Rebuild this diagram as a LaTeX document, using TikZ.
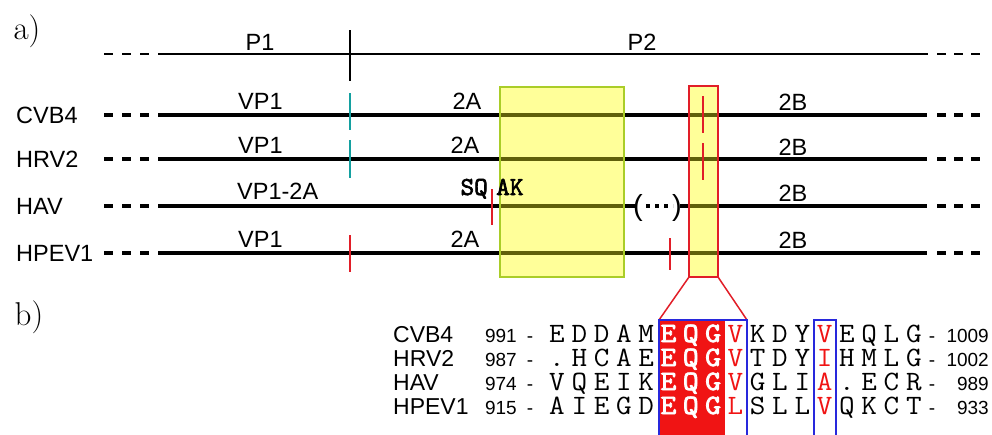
\documentclass[tikz,border=0pt]{standalone}
\usepackage{fontspec}
\setsansfont{Liberation Sans}
\newfontfamily\seqbold[FakeBold=2.5]{lmmono10-regular.otf}
\definecolor{boxyellow}{RGB}{255,255,153}
\definecolor{boxgreen}{RGB}{170,205,40}
\definecolor{olive2}{RGB}{96,96,10}
\definecolor{tickteal}{RGB}{20,160,160}
\definecolor{tickred}{RGB}{225,30,40}
\definecolor{alnred}{RGB}{240,20,20}
\definecolor{alnblue}{RGB}{40,40,220}
\begin{document}
\begin{tikzpicture}[x=1pt,y=-1pt,
  lab/.style={font=\sffamily\fontsize{23.5}{25}\selectfont, inner sep=0pt},
  plab/.style={font=\rmfamily\fontsize{33}{35}\selectfont, inner sep=0pt},
  alab/.style={font=\sffamily\fontsize{23}{25}\selectfont, inner sep=0pt, anchor=base west},
  anum/.style={font=\sffamily\fontsize{19}{21}\selectfont, inner sep=0pt},
  sbase/.style={inner sep=0pt, anchor=base, xscale=1.08},
  sk/.style={sbase, font=\ttfamily\fontsize{28}{30}\selectfont, text=black},
  sr/.style={sbase, font=\ttfamily\fontsize{28}{30}\selectfont, text=alnred},
  sw/.style={sbase, font=\seqbold\fontsize{28}{30}\selectfont, text=white},
  rowline/.style={line width=4.5pt},
  thinline/.style={line width=1.3pt},
  tick/.style={line width=2pt},
  motif/.style={font=\seqbold\fontsize{26}{28}\selectfont, inner sep=0pt}
]
\useasboundingbox (0,0) rectangle (992,434);

% ---------- panel labels
\node[plab] (pa) at (27,31) {a)};
\node[plab] (pb) at (29,317) {b)};

% ---------- boxes (fill)
\fill[boxyellow] (500,87) rectangle (624,277);
\fill[boxyellow] (689,86) rectangle (718,277);

% ---------- top polyprotein line
\coordinate (tl0) at (104,54); \coordinate (tl1) at (149,54);
\coordinate (tl2) at (158,54); \coordinate (tl3) at (928,54);
\coordinate (tl4) at (937,54); \coordinate (tl5) at (981,54);
\draw[thinline, dash pattern=on 9pt off 9pt] (tl0) -- (tl1);
\draw[thinline] (tl2) -- (tl3);
\draw[thinline, dash pattern=on 9pt off 8pt] (tl4) -- (tl5);
\coordinate (vt0) at (350,30); \coordinate (vt1) at (350,81);
\draw[line width=1.8pt] (vt0) -- (vt1);
\node[lab] (P1) at (260,42) {P1};
\node[lab] (P2) at (642,42) {P2};

% ---------- genome rows
\foreach \y in {115,159,253} {
  \draw[rowline, dash pattern=on 9pt off 9pt] (104,\y) -- (149,\y);
  \draw[rowline] (158,\y) -- (927,\y);
  \draw[rowline, dash pattern=on 9pt off 8pt] (937,\y) -- (981,\y);
}
\draw[rowline, dash pattern=on 9pt off 9pt] (104,206) -- (149,206);
\draw[rowline] (158,206) -- (635,206);
\draw[rowline] (680,206) -- (927,206);
\draw[rowline, dash pattern=on 9pt off 8pt] (937,206) -- (981,206);

% lines seen through the boxes
\begin{scope}
  \clip (500,87) rectangle (624,277) (689,86) rectangle (718,277);
  \foreach \y in {115,159,206,253} {
    \draw[rowline, olive2] (480,\y) -- (740,\y);
  }
\end{scope}

% HAV gap (...)
\node[font=\sffamily\fontsize{29}{31}\selectfont, inner sep=0pt, anchor=west] (lp) at (633,208) {(};
\node[font=\sffamily\fontsize{29}{31}\selectfont, inner sep=0pt, anchor=east] (rp) at (682,208) {)};
\draw[line width=4.5pt, dash pattern=on 4pt off 5pt] (646,206) -- (673,206);

% box borders
\draw[boxgreen, line width=2pt] (500,87) rectangle (624,277);
\draw[tickred, line width=2pt] (689,86) rectangle (718,277);

% ---------- cleavage ticks
\draw[tick, tickteal] (350,93) -- (350,130);
\draw[tick, tickteal] (350,140) -- (350,178);
\draw[tick, tickred] (350,235) -- (350,272);
\draw[tick, tickred] (492,189) -- (492,225);
\draw[tick, tickred] (670,238) -- (670,270);
\draw[tick, tickred] (703,96) -- (703,133);
\draw[tick, tickred] (703,143) -- (703,180);

% ---------- row labels
\node[lab, anchor=west] (n1) at (16,115) {CVB4};
\node[lab, anchor=west] (n2) at (16,159) {HRV2};
\node[lab, anchor=west] (n3) at (16,206) {HAV};
\node[lab, anchor=west] (n4) at (16,253) {HPEV1};

\node[lab, anchor=west] (vp1a) at (238,101) {VP1};
\node[lab, anchor=west] (vp1b) at (238,145) {VP1};
\node[lab, anchor=west] (vp1c) at (237,191) {VP1-2A};
\node[lab, anchor=west] (vp1d) at (238,239) {VP1};

\node[lab] (a2a) at (467,101) {2A};
\node[lab] (a2b) at (465,145) {2A};
\node[lab] (a2d) at (465,239) {2A};

\node[lab] (b2a) at (793,102) {2B};
\node[lab] (b2b) at (793,147) {2B};
\node[lab] (b2c) at (793,193) {2B};
\node[lab] (b2d) at (793,240) {2B};

\node[motif, anchor=base east] (sq) at (488,195) {SQ};
\node[motif, anchor=base west] (ak) at (496,195) {AK};

% ---------- zoom trapezoid
\coordinate (zl0) at (689,277); \coordinate (zl1) at (659,320);
\coordinate (zr0) at (718,277); \coordinate (zr1) at (747,320);
\draw[tickred, line width=1.5pt] (zl0) -- (zl1);
\draw[tickred, line width=1.5pt] (zr0) -- (zr1);

% ---------- alignment
\fill[alnred] (659,320) rectangle (725,440);
\draw[alnblue, line width=1.5pt] (659,320) rectangle (747,440);
\draw[alnblue, line width=1.5pt] (814,320) rectangle (836,440);

\foreach \nm/\la/\ra/\b [count=\r] in {CVB4/991/1009/342, HRV2/987/1002/366, HAV/974/989/390, HPEV1/915/933/414} {
  \node[alab] (an\r) at (393,\b) {\nm};
  \node[anum, anchor=base east] (al\r) at (517,\b) {\la};
  \node[anum, anchor=base] (alh\r) at (530,\b) {-};
  \node[anum, anchor=base] (ah\r) at (932,\b) {-};
  \node[anum, anchor=base east] (ar\r) at (989,\b) {\ra};
}

\foreach \c/\t [count=\k from 0] in {E/k,D/k,D/k,A/k,M/k,E/w,Q/w,G/w,V/r,K/k,D/k,Y/k,V/r,E/k,Q/k,L/k,G/k}
  \node[s\t] (s1-\k) at ({557+22.3*\k},342) {\c};
\foreach \c/\t [count=\k from 0] in {./k,H/k,C/k,A/k,E/k,E/w,Q/w,G/w,V/r,T/k,D/k,Y/k,I/r,H/k,M/k,L/k,G/k}
  \node[s\t] (s2-\k) at ({557+22.3*\k},366) {\c};
\foreach \c/\t [count=\k from 0] in {V/k,Q/k,E/k,I/k,K/k,E/w,Q/w,G/w,V/r,G/k,L/k,I/k,A/r,./k,E/k,C/k,R/k}
  \node[s\t] (s3-\k) at ({557+22.3*\k},390) {\c};
\foreach \c/\t [count=\k from 0] in {A/k,I/k,E/k,G/k,D/k,E/w,Q/w,G/w,L/r,S/k,L/k,L/k,V/r,Q/k,K/k,C/k,T/k}
  \node[s\t] (s4-\k) at ({557+22.3*\k},414) {\c};
\end{tikzpicture}
\end{document}
